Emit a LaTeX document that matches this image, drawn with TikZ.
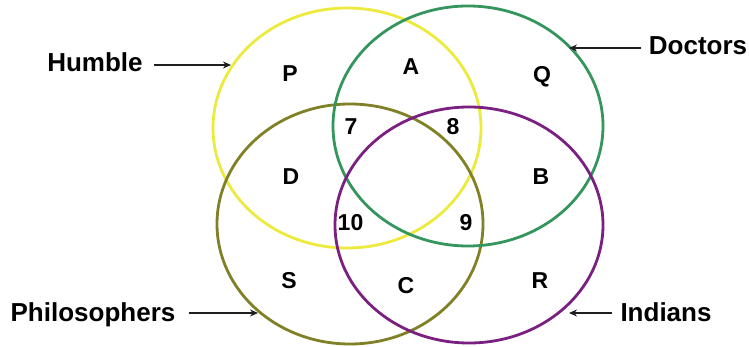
\documentclass[tikz,border=0pt]{standalone}
\usepackage{fontspec}
\setmainfont{Liberation Sans}
\usetikzlibrary{arrows.meta}
\definecolor{cyel}{RGB}{236,234,60}
\definecolor{cgrn}{RGB}{52,150,92}
\definecolor{colv}{RGB}{128,128,38}
\definecolor{cpur}{RGB}{122,32,128}
\tikzset{
  ring/.style={line width=2.8pt},
  outer/.style={font=\fontsize{26}{30}\selectfont\bfseries, anchor=base, inner sep=0pt},
  inner/.style={font=\fontsize{23}{27}\selectfont\bfseries, anchor=base, inner sep=0pt},
  arr/.style={line width=1.2pt, draw={rgb,255:red,30;green,30;blue,30}, -{Stealth[length=8pt,width=7pt]}}
}
\begin{document}
\begin{tikzpicture}[x=1pt,y=-1pt]
\useasboundingbox (0,0) rectangle (749,347);
% ellipses
\draw[ring, cyel] (347,128) ellipse [x radius=134pt, y radius=120pt];
\draw[ring, colv] (350,224) ellipse [x radius=133pt, y radius=120pt];
\draw[ring, cgrn] (468,126) ellipse [x radius=135pt, y radius=120pt];
\draw[ring, cpur] (469,225) ellipse [x radius=134pt, y radius=118pt];
% region labels
\node[inner] (lP) at (290,82) {P};
\node[inner] (lA) at (411,75) {A};
\node[inner] (lQ) at (542,83) {Q};
\node[inner] (l7) at (351,135) {7};
\node[inner] (l8) at (453,135) {8};
\node[inner] (lD) at (291,185) {D};
\node[inner] (lB) at (541,185) {B};
\node[inner] (l10) at (350.5,231) {10};
\node[inner] (l9) at (466,231) {9};
\node[inner] (lS) at (289,288) {S};
\node[inner] (lC) at (406,293) {C};
\node[inner] (lR) at (540,288) {R};
% set labels
\node[outer] (hum) at (95,72) {Humble};
\node[outer] (doc) at (698,55) {Doctors};
\node[outer] (phi) at (93,321) {Philosophers};
\node[outer] (ind) at (666,321) {Indians};
% arrow tips
\coordinate (humtip) at (231,65);
\coordinate (doctip) at (569,48);
\coordinate (phitip) at (258,313);
\coordinate (indtip) at (569,313);
\draw[arr] (hum.east |- humtip) ++(11,0) -- (humtip);
\draw[arr] (doc.west |- doctip) ++(-8,0) -- (doctip);
\draw[arr] (phi.east |- phitip) ++(13,0) -- (phitip);
\draw[arr] (ind.west |- indtip) ++(-8,0) -- (indtip);
\end{tikzpicture}
\end{document}
